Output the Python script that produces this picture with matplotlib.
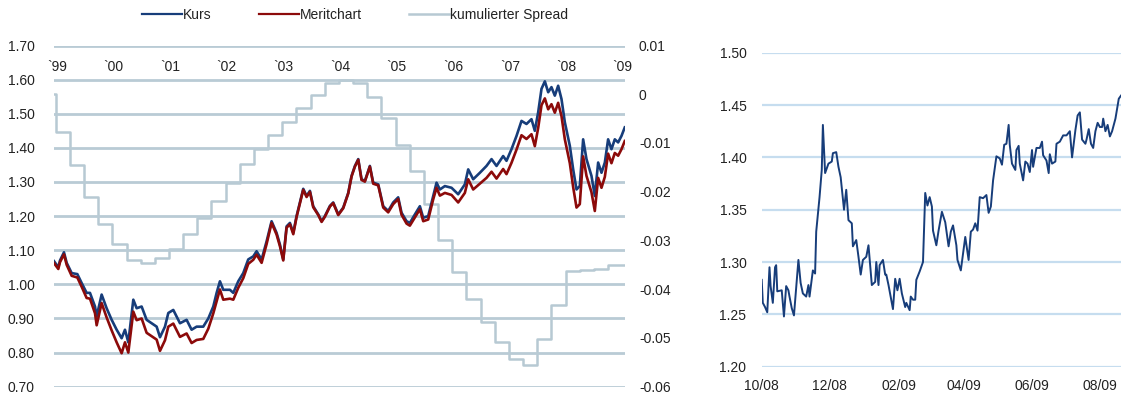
import matplotlib
matplotlib.use('Agg')
import matplotlib.pyplot as plt
import matplotlib.dates as mdates
import matplotlib.transforms as mtransforms
from matplotlib.lines import Line2D
import pandas as pd

plt.rcParams['font.family'] = ['Liberation Sans', 'DejaVu Sans']
plt.rcParams['font.size'] = 10

# ---------------- left panel data (x = position on year scale) ----------------
t_pos = [1999.000, 1999.076, 1999.106, 1999.176, 1999.224, 1999.312, 1999.412, 1999.488,
         1999.576, 1999.635, 1999.724, 1999.753, 1999.841, 1999.929, 2000.018, 2000.106,
         2000.194, 2000.253, 2000.312, 2000.400, 2000.459, 2000.547, 2000.635, 2000.724,
         2000.812, 2000.871, 2000.959, 2001.018, 2001.106, 2001.224, 2001.341, 2001.429,
         2001.518, 2001.635, 2001.724, 2001.812, 2001.871, 2001.929, 2001.988, 2002.106,
         2002.165, 2002.253, 2002.341, 2002.429, 2002.518, 2002.576, 2002.665, 2002.753,
         2002.841, 2002.929, 2002.988, 2003.047, 2003.106, 2003.165, 2003.224, 2003.282,
         2003.341, 2003.400, 2003.459, 2003.518, 2003.576, 2003.665, 2003.724, 2003.782,
         2003.871, 2003.929, 2004.018, 2004.106, 2004.194, 2004.253, 2004.312, 2004.371,
         2004.429, 2004.488, 2004.576, 2004.635, 2004.724, 2004.812, 2004.900, 2004.988,
         2005.076, 2005.135, 2005.224, 2005.282, 2005.371, 2005.459, 2005.518, 2005.606,
         2005.694, 2005.753, 2005.812, 2005.900, 2006.018, 2006.135, 2006.253, 2006.312,
         2006.400, 2006.518, 2006.635, 2006.724, 2006.812, 2006.929, 2006.988, 2007.076,
         2007.165, 2007.253, 2007.341, 2007.429, 2007.488, 2007.547, 2007.606, 2007.665,
         2007.724, 2007.782, 2007.841, 2007.900, 2007.959, 2008.018, 2008.106, 2008.165,
         2008.224, 2008.282, 2008.341, 2008.400, 2008.488, 2008.547, 2008.606, 2008.665,
         2008.724, 2008.782, 2008.841, 2008.900, 2008.959, 2009.018, 2009.076]

kurs = [1.068, 1.050, 1.070, 1.094, 1.063, 1.033, 1.030, 1.004,
        0.975, 0.975, 0.935, 0.906, 0.970, 0.930, 0.896, 0.867,
        0.842, 0.867, 0.830, 0.955, 0.930, 0.935, 0.896, 0.886,
        0.876, 0.845, 0.876, 0.916, 0.925, 0.886, 0.896, 0.867,
        0.876, 0.876, 0.900, 0.935, 0.975, 1.009, 0.984, 0.984,
        0.975, 1.009, 1.033, 1.073, 1.082, 1.097, 1.073, 1.126,
        1.185, 1.151, 1.117, 1.073, 1.170, 1.180, 1.151, 1.200,
        1.240, 1.280, 1.259, 1.274, 1.229, 1.205, 1.185, 1.200,
        1.230, 1.240, 1.205, 1.225, 1.268, 1.318, 1.347, 1.367,
        1.308, 1.303, 1.347, 1.298, 1.293, 1.229, 1.215, 1.240,
        1.255, 1.210, 1.185, 1.180, 1.205, 1.229, 1.195, 1.200,
        1.259, 1.298, 1.278, 1.288, 1.283, 1.264, 1.293, 1.337,
        1.308, 1.327, 1.347, 1.367, 1.347, 1.376, 1.362, 1.396,
        1.435, 1.479, 1.470, 1.484, 1.450, 1.504, 1.573, 1.595,
        1.563, 1.578, 1.553, 1.582, 1.543, 1.475, 1.406, 1.337,
        1.278, 1.288, 1.425, 1.367, 1.318, 1.259, 1.357, 1.327,
        1.357, 1.425, 1.396, 1.425, 1.416, 1.435, 1.460]

meritchart = [1.062, 1.045, 1.065, 1.088, 1.057, 1.025, 1.020, 0.993,
              0.960, 0.958, 0.915, 0.880, 0.945, 0.903, 0.865, 0.830,
              0.798, 0.830, 0.800, 0.920, 0.895, 0.900, 0.858, 0.848,
              0.838, 0.805, 0.836, 0.876, 0.885, 0.846, 0.856, 0.828,
              0.837, 0.840, 0.870, 0.915, 0.950, 0.985, 0.955, 0.958,
              0.955, 0.990, 1.018, 1.060, 1.072, 1.087, 1.063, 1.118,
              1.180, 1.146, 1.112, 1.070, 1.166, 1.176, 1.147, 1.197,
              1.237, 1.277, 1.256, 1.271, 1.226, 1.203, 1.183, 1.198,
              1.228, 1.238, 1.203, 1.223, 1.266, 1.316, 1.345, 1.365,
              1.306, 1.301, 1.345, 1.295, 1.290, 1.225, 1.211, 1.235,
              1.250, 1.204, 1.178, 1.172, 1.196, 1.220, 1.185, 1.190,
              1.249, 1.283, 1.260, 1.268, 1.262, 1.240, 1.268, 1.308,
              1.278, 1.295, 1.312, 1.330, 1.310, 1.338, 1.323, 1.356,
              1.395, 1.437, 1.426, 1.440, 1.405, 1.458, 1.525, 1.545,
              1.513, 1.528, 1.503, 1.532, 1.493, 1.425, 1.355, 1.285,
              1.225, 1.235, 1.375, 1.318, 1.270, 1.215, 1.312, 1.283,
              1.315, 1.383, 1.355, 1.385, 1.377, 1.396, 1.420]

# cumulative spread, quarterly steps (value after each quarterly step)
spread_x = [1999.000, 1999.030, 1999.280, 1999.530, 1999.780, 2000.030, 2000.280, 2000.530,
            2000.780, 2001.030, 2001.280, 2001.530, 2001.780, 2002.030, 2002.280, 2002.530,
            2002.780, 2003.030, 2003.280, 2003.530, 2003.780, 2004.030, 2004.280, 2004.530,
            2004.780, 2005.030, 2005.280, 2005.530, 2005.780, 2006.030, 2006.280, 2006.530,
            2006.780, 2007.030, 2007.280, 2007.530, 2007.780, 2008.030, 2008.280, 2008.530,
            2008.780, 2009.080]
spread = [0.0, -0.0078, -0.0146, -0.0210, -0.0267, -0.0307, -0.0341, -0.0347,
          -0.0335, -0.0317, -0.0287, -0.0254, -0.0218, -0.0183, -0.0143, -0.0112,
          -0.0083, -0.0056, -0.0028, -0.0001, 0.0024, 0.0030, 0.0023, -0.0006,
          -0.0048, -0.0104, -0.0157, -0.0226, -0.0300, -0.0365, -0.0420, -0.0468,
          -0.0509, -0.0543, -0.0555, -0.0502, -0.0432, -0.0363, -0.0360, -0.0358,
          -0.0350, -0.0350]

year_labels = ["`99", "`00", "`01", "`02", "`03", "`04", "`05", "`06", "`07", "`08", "`09"]
year_label_pos = [1999.05, 2000.05, 2001.05, 2002.05, 2003.05, 2004.05, 2005.05,
                  2006.05, 2007.05, 2008.05, 2009.03]

left_ticks = [0.70, 0.80, 0.90, 1.00, 1.10, 1.20, 1.30, 1.40, 1.50, 1.60, 1.70]
spread_ticks = [0.01, 0.0, -0.01, -0.02, -0.03, -0.04, -0.05, -0.06]
spread_tick_labels = ["0.01", "0", "-0.01", "-0.02", "-0.03", "-0.04", "-0.05", "-0.06"]

# ---------------- right panel data (days since 2008-10-01) ----------------
zoom_days = [0, 1, 3, 5, 7, 8, 10, 12, 13, 14, 18, 20, 22, 24, 25, 27, 29, 33, 35, 37,
             40, 42, 43, 46, 48, 49, 52, 54, 55, 57, 60, 63, 64, 67, 69, 71, 74, 76, 78, 81,
             82, 85, 87, 89, 91, 94, 96, 99, 102, 103, 105, 106, 109, 111, 112, 114, 118, 120, 122, 124,
             126, 129, 130, 133, 134, 136, 138, 139, 142, 145, 147, 149, 151, 153, 154, 157, 159, 162, 165, 168,
             170, 172, 175, 176, 179, 183, 186, 188, 190, 192, 194, 196, 199, 202, 204, 206, 208, 211, 214, 216,
             218, 220, 222, 223, 225, 228, 229, 231, 232, 235, 237, 239, 241, 243, 244, 247, 250, 252, 253, 256,
             258, 259, 261, 264, 265, 268, 271, 274, 277, 279, 282, 284, 286, 288, 291, 292, 294, 296, 298, 300,
             302, 304, 306, 307, 309, 311, 313, 315, 318, 321, 323]
zoom_kurs = [1.283, 1.261, 1.257, 1.252, 1.295, 1.277, 1.261, 1.295, 1.297, 1.272, 1.273, 1.248, 1.277, 1.273, 1.267, 1.256, 1.249, 1.302, 1.280, 1.270,
             1.267, 1.278, 1.267, 1.292, 1.289, 1.329, 1.362, 1.388, 1.431, 1.385, 1.394, 1.396, 1.404, 1.405, 1.391, 1.381, 1.350, 1.369, 1.340, 1.337,
             1.315, 1.321, 1.305, 1.288, 1.302, 1.305, 1.316, 1.278, 1.281, 1.300, 1.278, 1.297, 1.302, 1.288, 1.288, 1.278, 1.255, 1.284, 1.273, 1.284,
             1.270, 1.257, 1.261, 1.254, 1.267, 1.264, 1.264, 1.283, 1.291, 1.300, 1.366, 1.354, 1.362, 1.353, 1.330, 1.316, 1.330, 1.348, 1.338, 1.315,
             1.329, 1.335, 1.316, 1.302, 1.292, 1.324, 1.302, 1.329, 1.331, 1.337, 1.330, 1.362, 1.361, 1.364, 1.347, 1.353, 1.378, 1.401, 1.399, 1.393,
             1.412, 1.413, 1.431, 1.412, 1.394, 1.388, 1.407, 1.411, 1.394, 1.378, 1.396, 1.394, 1.386, 1.407, 1.391, 1.409, 1.409, 1.415, 1.402, 1.397,
             1.385, 1.403, 1.394, 1.396, 1.413, 1.415, 1.421, 1.421, 1.425, 1.400, 1.426, 1.440, 1.443, 1.417, 1.413, 1.417, 1.427, 1.413, 1.409, 1.425,
             1.433, 1.429, 1.429, 1.437, 1.425, 1.431, 1.420, 1.425, 1.437, 1.456, 1.459]
zoom_start = "2008-10-01"
zoom_end = "2009-08-20"
zoom_tick_dates = ["2008-10-01", "2008-12-01", "2009-02-01", "2009-04-01", "2009-06-01", "2009-08-01"]
zoom_yticks = [1.20, 1.25, 1.30, 1.35, 1.40, 1.45, 1.50]

# ---------------- style ----------------
KURS_C = '#173d7a'
MERIT_C = '#8c0a0a'
SPREAD_C = '#b7c9d3'
GRID_L = '#b9cbd5'
GRID_R = '#c6ddef'
TXT = '#222222'

W, H = 1121, 400
fig = plt.figure(figsize=(W / 100, H / 100), dpi=100)

# ---- left panel ----
ax = fig.add_axes([54 / W, 1 - 386.7 / H, 571 / W, (386.7 - 45.5) / H])
ax2 = ax.twinx()
ax.set_zorder(ax2.get_zorder() + 1)
ax.patch.set_visible(False)

ax2.plot(spread_x, spread, drawstyle='steps-post', color=SPREAD_C, lw=1.8)
ax.plot(t_pos, kurs, color=KURS_C, lw=1.9)
ax.plot(t_pos, meritchart, color=MERIT_C, lw=1.9)

ax.set_xlim(1999.0, 2009.08)
ax.set_ylim(0.70, 1.70)
ax.set_yticks(left_ticks)
ax.set_yticklabels([f"{v:.2f}" for v in left_ticks])
ax.set_xticks([])
ax.grid(axis='y', color=GRID_L, lw=2)
ax.set_axisbelow(True)
ax.tick_params(axis='y', length=0, pad=14, labelcolor=TXT, labelsize=10)

ax2.set_ylim(-0.06, 0.01)
ax2.set_yticks(spread_ticks)
ax2.set_yticklabels(spread_tick_labels)
ax2.tick_params(axis='y', length=0, pad=10, labelcolor=TXT, labelsize=10)
ax2.set_xticks([])
for a in (ax, ax2):
    for s in a.spines.values():
        s.set_visible(False)

trans = mtransforms.blended_transform_factory(ax.transData, ax.transAxes)
for lab, pos in zip(year_labels, year_label_pos):
    ax.text(pos, 0.936, lab, transform=trans, ha='center', va='center', fontsize=10, color=TXT)

handles = [Line2D([], [], color=KURS_C, lw=1.6),
           Line2D([], [], color=MERIT_C, lw=1.6),
           Line2D([], [], color=SPREAD_C, lw=1.8)]
fig.legend(handles, ['Kurs', 'Meritchart', 'kumulierter Spread'], loc='center',
           bbox_to_anchor=(355 / W, 1 - 15 / H), ncol=3, frameon=False,
           handlelength=2.9, handletextpad=0.05, columnspacing=3.4, fontsize=10,
           labelcolor=TXT)

# ---- right panel ----
ax3 = fig.add_axes([761.7 / W, 1 - 366.7 / H, (W - 761.7) / W, (366.7 - 52.7) / H])
zdates = pd.Timestamp(zoom_start) + pd.to_timedelta(zoom_days, unit='D')
ax3.plot(zdates, zoom_kurs, color=KURS_C, lw=1.4)
ax3.set_xlim(pd.Timestamp(zoom_start), pd.Timestamp(zoom_end))
ax3.set_ylim(1.20, 1.50)
ax3.set_yticks(zoom_yticks)
ax3.set_yticklabels([f"{v:.2f}" for v in zoom_yticks])
ax3.set_xticks(pd.to_datetime(zoom_tick_dates))
ax3.xaxis.set_major_formatter(mdates.DateFormatter('%m/%y'))
ax3.grid(axis='y', color=GRID_R, lw=1.6)
ax3.set_axisbelow(True)
ax3.tick_params(axis='both', length=0, labelcolor=TXT, labelsize=10)
ax3.tick_params(axis='y', pad=11)
ax3.tick_params(axis='x', pad=9)
for s in ax3.spines.values():
    s.set_visible(False)

fig.savefig('out.png', dpi=100)
